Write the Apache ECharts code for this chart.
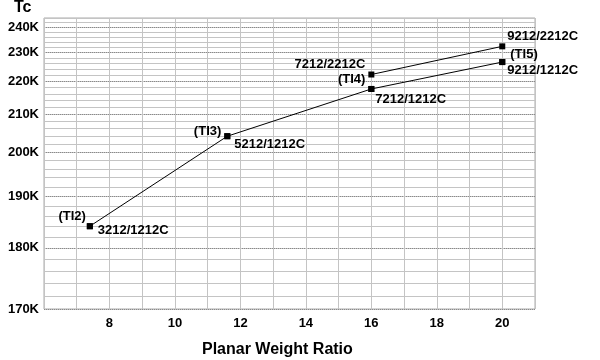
<!DOCTYPE html>
<html>
<head>
<meta charset="utf-8">
<script src="https://cdn.jsdelivr.net/npm/echarts@6/dist/echarts.min.js"></script>
<style>html,body{margin:0;padding:0;background:#fff;}#c{width:600px;height:360px;}</style>
</head>
<body>
<div id="c"></div>
<script>
// ---- data ----
const lowX = [7.4, 11.6, 16, 20];
const lowTc = [184, 204, 217.5, 226.5];
const lowNames = ['3212/1212C', '5212/1212C', '7212/1212C', '9212/1212C'];
const highX = [16, 20];
const highTc = [222.2, 232.3];
const highNames = ['7212/2212C', '9212/2212C'];
const tiNames = ['(TI2)', '(TI3)', '(TI4)', '(TI5)'];
const yMajorTicks = [170, 180, 190, 200, 210, 220, 230, 240];
const yMinorTicks = [170,172,174,176,178,180,182,184,186,188,190,192,194,196,198,200,202,204,206,208,210,212,214,216,218,220,222,224,226,228,230,232,234,236,238,240,242,244];
const xLabels = [8, 10, 12, 14, 16, 18, 20];
const yMin = 170, yMax = 244, xMin = 6, xMax = 21;

// y scale: 1/T^2 (transform for the library's linear axis)
const f = T => -1e6 / (T * T);
const fInv = v => Math.sqrt(-1e6 / v);

const FONT = 'Liberation Sans, Arial, Helvetica, sans-serif';
const lab = (align, dx, dy) => ({
  show: true, position: 'inside', align: align, verticalAlign: 'middle',
  offset: [dx, dy], color: '#000', fontWeight: 'bold', fontSize: 13, fontFamily: FONT
});

const lowLabelStyle = [lab('left', 8, 4), lab('left', 7, 8), lab('left', 4, 10), lab('left', 5, 8)];
const highLabelStyle = [lab('right', -6, -10), lab('left', 5, -10)];
const tiLabelStyle = [lab('right', -4, -10), lab('right', -6, -5), lab('right', -6, -10), lab('left', 8, -8)];

const lowData = lowX.map((x, i) => ({ value: [x, f(lowTc[i])], name: lowNames[i], label: lowLabelStyle[i] }));
const highData = highX.map((x, i) => ({ value: [x, f(highTc[i])], name: highNames[i], label: highLabelStyle[i] }));
const tiData = lowX.map((x, i) => ({ value: [x, f(lowTc[i])], name: tiNames[i], label: tiLabelStyle[i] }));

const chart = echarts.init(document.getElementById('c'));
chart.setOption({
  animation: false,
  backgroundColor: '#fff',
  title: [
    { text: 'Tc', left: 14, top: 0, padding: 0, textStyle: { fontSize: 16, fontWeight: 'bold', fontFamily: FONT, color: '#000' } },
    { text: 'Planar Weight Ratio', left: 202, top: 342, padding: 0, textStyle: { fontSize: 16, fontWeight: 'bold', fontFamily: FONT, color: '#000' } }
  ],
  grid: { left: 44, right: 65, top: 18, bottom: 51, show: true, borderColor: '#aaa', borderWidth: 1, containLabel: false },
  xAxis: {
    type: 'value', min: xMin, max: xMax, interval: 1,
    axisLine: { show: false }, axisTick: { show: false },
    axisLabel: {
      margin: 8, color: '#000', fontWeight: 'bold', fontSize: 13, fontFamily: FONT,
      formatter: v => (xLabels.indexOf(v) >= 0 ? String(v) : '')
    },
    splitLine: { show: true, lineStyle: { color: '#c4c4c4', width: 1 } }
  },
  yAxis: [
    {
      type: 'value', min: f(yMin), max: f(yMax), position: 'left',
      axisLine: { show: false },
      axisTick: { show: false, customValues: yMinorTicks.map(f) },
      axisLabel: { show: false, customValues: yMinorTicks.map(f) },
      splitLine: { show: true, lineStyle: { color: '#c4c4c4', width: 1 } }
    },
    {
      type: 'value', min: f(yMin), max: f(yMax), position: 'left',
      axisLine: { show: false },
      axisTick: { show: false, customValues: yMajorTicks.map(f) },
      axisLabel: {
        customValues: yMajorTicks.map(f), margin: 5, color: '#000', fontWeight: 'bold', fontSize: 13, fontFamily: FONT,
        formatter: v => Math.round(fInv(v)) + 'K'
      },
      splitLine: { show: true, lineStyle: { color: '#8a8a8a', width: 1, type: [1, 1] } }
    }
  ],
  series: [
    {
      type: 'line', yAxisIndex: 0, data: lowData, symbol: 'rect', symbolSize: 6,
      itemStyle: { color: '#000' }, lineStyle: { color: '#000', width: 1 },
      label: { show: true, formatter: '{b}' }, z: 5
    },
    {
      type: 'line', yAxisIndex: 0, data: highData, symbol: 'rect', symbolSize: 6,
      itemStyle: { color: '#000' }, lineStyle: { color: '#000', width: 1 },
      label: { show: true, formatter: '{b}' }, z: 5
    },
    {
      type: 'scatter', yAxisIndex: 0, data: tiData, symbol: 'rect', symbolSize: 6,
      itemStyle: { color: '#000', opacity: 1 },
      label: { show: true, formatter: '{b}' }, z: 6, silent: true
    }
  ]
});
</script>
</body>
</html>
